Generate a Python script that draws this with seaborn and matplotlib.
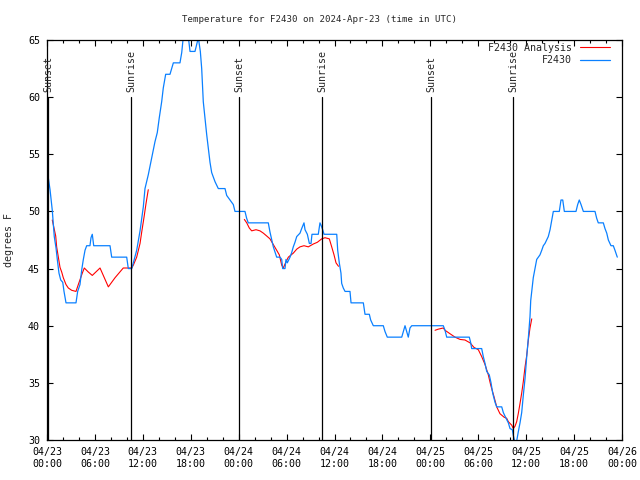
import matplotlib
matplotlib.use("Agg")
import matplotlib.pyplot as plt
import matplotlib.dates as mdates
import numpy as np
import pandas as pd
import seaborn as sns

start = pd.Timestamp("2024-04-23 00:00")

# observed temperature, hours since 04/23 00:00 UTC
obs_hours = [0.13, 0.38, 0.66, 0.91, 1.13, 1.29, 1.50, 1.72, 1.97, 2.13, 2.38, 3.63, 3.84, 4.13,
             4.35, 4.55, 4.76, 4.97, 5.38, 5.51, 5.67, 5.85, 7.89, 8.10, 9.98, 10.18, 10.61,
             10.81, 11.23, 11.65, 12.06, 12.27, 12.68, 13.11, 13.52, 13.81, 14.06, 14.36, 14.56,
             14.86, 15.40, 15.61, 15.82, 16.65, 16.87, 17.07, 17.69, 17.91, 18.53, 18.95, 19.20,
             19.37, 19.57, 19.78, 20.00, 20.20, 20.41, 20.62, 21.04, 21.45, 22.29, 22.50, 22.92,
             23.33, 23.54, 24.79, 25.00, 25.20, 27.71, 27.92, 28.14, 28.34, 28.76, 29.18, 29.39,
             29.51, 29.80, 29.93, 30.09, 30.43, 30.64, 30.84, 31.05, 31.27, 31.68, 31.89, 32.18,
             32.31, 32.60, 32.85, 33.06, 33.18, 33.97, 34.18, 34.31, 34.52, 34.69, 36.28, 36.40,
             36.60, 36.81, 36.90, 37.10, 37.32, 37.94, 38.07, 39.61, 39.82, 40.36, 40.53, 40.86,
             42.11, 42.32, 42.61, 44.42, 44.62, 44.83, 45.04, 45.24, 45.45, 45.67, 49.62, 49.84,
             50.05, 52.88, 53.06, 53.18, 54.43, 54.63, 54.85, 55.06, 55.38, 55.60, 55.81, 56.10,
             56.31, 56.94, 57.14, 57.48, 57.77, 57.98, 58.27, 58.39, 58.60, 58.81, 59.01, 59.23,
             59.44, 59.64, 59.86, 60.07, 60.27, 60.48, 60.57, 60.77, 60.89, 61.11, 61.32, 61.52,
             61.73, 61.95, 62.15, 62.36, 62.57, 62.77, 62.99, 63.20, 63.40, 64.15, 64.36, 64.58,
             64.78, 66.24, 66.45, 66.65, 66.87, 67.16, 68.62, 68.83, 69.03, 69.66, 69.87, 70.09,
             70.29, 70.62, 70.91, 71.12, 71.41]
obs_temps = [53.1, 51.9, 50.1, 47.8, 46.8, 45.8, 44.6, 44.0, 43.8, 43.0, 42.0, 42.0, 43.0, 43.6,
             44.9, 45.8, 46.6, 47.0, 47.0, 47.7, 48.0, 47.0, 47.0, 46.0, 46.0, 45.0, 45.0,
             45.5, 46.6, 48.3, 50.4, 52.0, 53.2, 54.7, 56.1, 56.9, 58.2, 59.6, 60.8,
             62.0, 62.0, 62.5, 63.0, 63.0, 63.9, 65.3, 65.3, 64.0, 64.0, 65.2, 64.0,
             62.5, 59.6, 58.2, 56.7, 55.5, 54.3, 53.4, 52.6, 52.0, 52.0, 51.4, 51.0,
             50.6, 50.0, 50.0, 49.4, 49.0, 49.0, 48.2, 47.5, 46.9, 46.0, 46.0, 45.8,
             45.0, 45.0, 45.8, 45.5, 46.0, 46.4, 46.9, 47.3, 47.8, 48.1, 48.5, 49.0,
             48.4, 48.0, 47.2, 47.2, 48.0, 48.0, 49.0, 48.8, 48.4, 48.0, 48.0, 46.6,
             45.5, 44.6, 43.7, 43.3, 43.0, 43.0, 42.0, 42.0, 41.0, 41.0, 40.5, 40.0,
             40.0, 39.5, 39.0, 39.0, 39.5, 40.0, 39.5, 39.0, 39.8, 40.0, 40.0, 39.6,
             39.0, 39.0, 38.5, 38.0, 38.0, 37.3, 36.7, 36.0, 35.7, 35.0, 34.1, 33.3,
             32.9, 32.9, 32.4, 31.9, 31.5, 31.0, 30.9, 30.4, 29.8, 29.9, 30.7, 31.5,
             32.4, 33.9, 35.4, 37.3, 38.9, 40.8, 42.2, 43.4, 44.2, 45.0, 45.8, 46.0,
             46.2, 46.6, 47.0, 47.2, 47.5, 47.8, 48.4, 49.2, 50.0, 50.0, 51.0, 51.0,
             50.0, 50.0, 50.6, 51.0, 50.6, 50.0, 50.0, 49.4, 49.0, 49.0, 48.5, 48.1,
             47.5, 47.0, 47.0, 46.6, 46.0]

# analysis temperature, three separate runs
ana_seg = [1] * 29 + [2] * 30 + [3] * 34
ana_hours = [0.66, 1.09, 1.21, 1.42, 1.63, 1.84, 2.04, 2.38, 2.67, 3.09, 3.63, 3.92, 4.22, 4.42,
             4.67, 5.17, 5.67, 6.64, 7.68, 8.52, 9.55, 10.61, 10.81, 11.23, 11.65, 11.86, 12.15,
             12.40, 12.68,
             24.71, 25.01, 25.33, 25.63, 26.17, 26.67, 27.09, 27.51, 27.92, 28.34, 28.76, 29.09,
             29.39, 29.59, 29.93, 30.22, 30.84, 31.27, 31.68, 32.18, 32.72, 33.35, 33.85, 34.40,
             34.81, 35.35, 35.65, 35.94, 36.19, 36.50,
             48.59, 49.00, 49.62, 49.84, 50.46, 51.09, 51.72, 52.34, 52.97, 53.47, 54.01, 54.43,
             54.85, 55.26, 55.56, 55.97, 56.31, 56.72, 57.23, 57.56, 57.77, 58.19, 58.39, 58.60,
             58.81, 59.01, 59.23, 59.44, 59.64, 59.86, 60.07, 60.27, 60.48, 60.70]
ana_temps = [49.25, 47.85, 46.9, 46.0, 45.1, 44.7, 44.2, 43.6, 43.3, 43.1, 43.0, 43.6, 44.2, 44.6,
             45.05, 44.7, 44.4, 45.05, 43.4, 44.2, 45.05, 45.05, 45.3, 46.0, 47.2, 48.2, 49.5,
             50.7, 51.9,
             49.3, 49.0, 48.55, 48.3, 48.4, 48.3, 48.1, 47.85, 47.6, 47.1, 46.6, 46.2,
             45.3, 45.05, 45.6, 46.0, 46.35, 46.7, 46.9, 47.0, 46.9, 47.15, 47.3, 47.6,
             47.7, 47.6, 46.9, 46.2, 45.5, 45.2,
             39.6, 39.7, 39.8, 39.6, 39.3, 39.0, 38.8, 38.75, 38.5, 38.1, 37.9, 37.3,
             36.6, 35.7, 34.8, 33.8, 32.9, 32.3, 32.0, 31.9, 31.6, 31.3, 31.0, 31.2,
             31.6, 32.3, 33.2, 34.1, 35.1, 36.4, 37.4, 38.75, 39.8, 40.6]

# sun events, hours since 04/23 00:00 UTC
sun_hours = [0.12, 10.58, 24.08, 34.47, 48.08, 58.39]
sun_labels = ["Sunset", "Sunrise", "Sunset", "Sunrise", "Sunset", "Sunrise"]

obs = pd.DataFrame({"time": start + pd.to_timedelta(obs_hours, unit="h"), "temp": obs_temps})
ana = pd.DataFrame({"time": start + pd.to_timedelta(ana_hours, unit="h"), "temp": ana_temps,
                    "seg": ana_seg})

sns.set_style("ticks", {"xtick.direction": "in", "ytick.direction": "in",
                        "axes.edgecolor": "black"})
plt.rcParams["font.family"] = ["DejaVu Sans Mono"]
plt.rcParams["font.size"] = 7.2

fig = plt.figure(figsize=(6.4, 4.8), dpi=100)
ax = fig.add_axes([47 / 640, 40 / 480, 575 / 640, 400 / 480])

for i, (seg, d) in enumerate(ana.groupby("seg")):
    sns.lineplot(data=d, x="time", y="temp", ax=ax, color="#ff0000", lw=0.8,
                 label="F2430 Analysis" if i == 0 else None, legend=False)
sns.lineplot(data=obs, x="time", y="temp", ax=ax, color="#0a80ff", lw=0.9,
             label="F2430", legend=False)

for h, lab in zip(sun_hours, sun_labels):
    t = start + pd.Timedelta(hours=h)
    ax.plot([t, t], [30, 60], color="black", lw=0.9)
    ax.text(t, 60.45, lab, rotation=90, ha="center", va="bottom", fontsize=7.2)

ax.set_xlim(start, start + pd.Timedelta(days=3))
ax.set_ylim(30, 65)
ax.set_yticks(np.arange(30, 66, 5))
ax.xaxis.set_major_locator(mdates.HourLocator(byhour=range(0, 24, 6)))
ax.xaxis.set_minor_locator(mdates.HourLocator(byhour=range(0, 24, 2)))
ax.xaxis.set_major_formatter(mdates.DateFormatter("%m/%d\n%H:%M"))
ax.tick_params(which="both", direction="in", top=True, right=True, colors="black",
               labelsize=7.2, width=0.8)
ax.tick_params(which="major", length=4.5, pad=5)
ax.tick_params(which="minor", length=2.5)
for s in ax.spines.values():
    s.set_linewidth(0.9)
    s.set_color("black")

ax.set_xlabel("")
ax.set_ylabel("degrees F", fontsize=7.2, labelpad=10)
fig.text(0.5, 1 - 20 / 480, "Temperature for F2430 on 2024-Apr-23 (time in UTC)",
         ha="center", va="center", fontsize=6.6)

ax.legend(loc="upper right", bbox_to_anchor=(0.982, 0.998), frameon=False,
          markerfirst=False, fontsize=7.2, handlelength=3.0, handletextpad=0.8,
          borderaxespad=0, borderpad=0.2, labelspacing=0.25)

fig.savefig("out.png", dpi=100)
